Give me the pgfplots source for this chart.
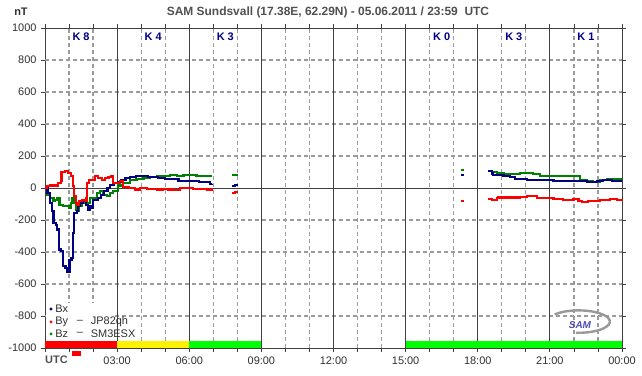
\documentclass[border=0pt]{standalone}
\usepackage{pgfplots}
\pgfplotsset{compat=1.18}
\usepackage{fontspec}
\setmainfont{Liberation Sans}
\definecolor{bxc}{HTML}{000080}
\definecolor{byc}{HTML}{FF0000}
\definecolor{bzc}{HTML}{008000}
\definecolor{framec}{HTML}{404040}
\definecolor{gridgray}{RGB}{155,155,155}
\definecolor{txtc}{HTML}{303030}
\definecolor{titc}{HTML}{505050}
\definecolor{kc}{HTML}{000080}
\definecolor{lime}{HTML}{00FF00}
\begin{document}
\begin{tikzpicture}
\useasboundingbox (-45bp,-28bp) rectangle (597bp,348bp);
\begin{axis}[
  at={(0,0)}, anchor=south west,
  scale only axis, width=577bp, height=320bp,
  xmin=0, xmax=24, ymin=-1000, ymax=1000,
  clip=false,
  unbounded coords=jump,
  axis line style={framec, line width=0.9bp},
  xtick={0,3,...,24},
  xticklabels={,03:00,06:00,09:00,12:00,15:00,18:00,21:00,00:00},
  minor xtick={1,2,4,5,7,8,10,11,13,14,16,17,19,20,22,23},
  ytick={-1000,-800,...,1000},
  yticklabels={-1000,-800,-600,-400,-200,0,200,400,600,800,1000},
  tick align=outside,
  major tick length=4bp, minor tick length=4bp,
  tick style={framec, line width=0.8bp},
  /pgf/number format/assume math mode=true,
  ticklabel style={font=\fontsize{11}{13}\selectfont, text=txtc},
  yticklabel style={xshift=-1bp},
  xticklabel style={yshift=-1bp},
]
% dashed grid
\pgfplotsinvokeforeach{1,2,4,5,7,8,10,11,13,14,16,17,19,20,22,23}{
  \draw[gridgray, line width=1.3bp, dash pattern=on 4bp off 3bp] (axis cs:#1,-1000) -- (axis cs:#1,1000);
}
\pgfplotsinvokeforeach{-800,-600,-400,-200,200,400,600,800}{
  \draw[gridgray, line width=1.3bp, dash pattern=on 4bp off 3bp] (axis cs:0,#1) -- (axis cs:24,#1);
}
% legend background
\fill[white] (axis cs:0.05,-719) rectangle (axis cs:2.91,-956);
\pgfplotsinvokeforeach{3,6,9,12,15,18,21}{
  \draw[framec, line width=0.9bp] (axis cs:#1,-1000) -- (axis cs:#1,1000);
}
\draw[framec, line width=0.9bp] (axis cs:0,0) -- (axis cs:24,0);

% K-index colour bar
\addplot[fill=byc, draw=none] coordinates {(0,-1000) (3,-1000) (3,-956) (0,-956)} -- cycle;
\addplot[fill=yellow, draw=none] coordinates {(3,-1000) (6,-1000) (6,-956) (3,-956)} -- cycle;
\addplot[fill=lime, draw=none] coordinates {(6,-1000) (9,-1000) (9,-956) (6,-956)} -- cycle;
\addplot[fill=lime, draw=none] coordinates {(15,-1000) (24,-1000) (24,-956) (15,-956)} -- cycle;
\addplot[fill=byc, draw=none] coordinates {(1.11,-1019) (1.5,-1019) (1.5,-1048) (1.11,-1048)} -- cycle;

% Bz
\addplot[const plot, bzc, line width=2.2bp] coordinates {
(0,0) (0.07,-42) (0.21,-62) (0.35,-83) (0.42,-73) (0.51,-62) (0.6,-104) (0.74,-115)
(1.01,-125) (1.07,-94) (1.14,-62) (1.21,-94) (1.28,-135) (1.35,-146) (1.41,-115)
(1.53,-94) (1.62,-83) (1.73,-94) (1.87,-62) (2.15,-31) (2.29,-21) (2.43,-42) (2.57,-52)
(2.7,-31) (2.84,-21) (3.05,15) (3.26,31) (3.54,48) (3.81,58) (4.1,62) (4.37,67) (4.65,73)
(5.2,83) (5.48,77) (5.76,79) (6.3,73) (6.96,73) (6.97,nan)
(7.79,79) (7.9,83) (8.04,83) (8.05,nan)
(17.3,112) (17.42,112) (17.43,nan)
(18.44,108) (18.58,98) (18.79,93) (19.07,88) (19.76,93) (20.31,88) (20.59,73)
(22.25,52) (22.53,42) (22.81,38) (23.09,48) (23.36,58) (23.99,58)};

% Bx
\addplot[const plot, bxc, line width=2.2bp] coordinates {
(0,0) (0.1,-31) (0.2,-94) (0.28,-146) (0.35,-219) (0.46,-229) (0.51,-260) (0.58,-385)
(0.66,-396) (0.74,-490) (0.85,-500) (0.9,-527) (1.02,-448) (1.1,-437) (1.16,-281)
(1.22,-156) (1.33,-146) (1.38,-115) (1.44,-94) (1.58,-83) (1.7,-104) (1.78,-135)
(1.85,-115) (1.92,-125) (1.99,-73) (2.2,-62) (2.33,-42) (2.45,-21) (2.6,0) (2.72,21)
(2.88,31) (3.02,35) (3.15,52) (3.35,62) (3.55,69) (3.78,73) (4.3,69) (4.7,62) (5.0,56)
(5.55,42) (6.4,37) (6.7,35) (6.85,25) (6.96,27) (6.97,nan)
(7.79,12) (7.9,19) (8.04,19) (8.05,nan)
(17.3,81) (17.42,81) (17.43,nan)
(18.44,104) (18.6,90) (18.65,83) (19.07,77) (19.34,69) (19.55,56) (19.76,58) (20.04,52)
(21.15,46) (21.84,42) (22.53,38) (22.95,42) (23.22,48) (23.57,42) (23.99,42)};

% By
\addplot[const plot, byc, line width=2.2bp] coordinates {
(0,0) (0.07,10) (0.2,15) (0.55,31) (0.65,42) (0.69,98) (0.83,104) (0.97,94) (1.07,73)
(1.15,10) (1.21,-52) (1.28,-94) (1.35,-104) (1.43,-83) (1.53,-73) (1.66,-83) (1.73,-62)
(1.76,31) (1.83,52) (1.94,48) (2.08,73) (2.22,62) (2.36,52) (2.5,62) (2.64,69) (2.77,73)
(2.84,31) (3.12,42) (3.26,6) (3.47,0) (3.74,-10) (3.95,0) (4.23,-4) (4.65,-10) (4.92,-4)
(5.13,-10) (5.34,-15) (5.62,0) (6.17,-6) (6.73,-15) (6.87,-10) (6.96,0) (6.97,nan)
(7.79,-31) (7.9,-23) (8.04,-23) (8.05,nan)
(17.3,-81) (17.42,-81) (17.43,nan)
(18.44,-71) (18.58,-75) (18.79,-65) (18.86,-60) (19.76,-54) (20.04,-52) (20.45,-62)
(21.15,-67) (21.56,-73) (21.98,-71) (22.19,-83) (22.32,-88) (22.6,-83) (22.67,-80)
(23.09,-77) (23.5,-71) (23.78,-73) (23.99,-79)};

% legend
\addplot[only marks, mark=*, mark size=1.3bp, bxc] coordinates {(0.25,-756)};
\addplot[only marks, mark=*, mark size=1.3bp, byc] coordinates {(0.25,-837)};
\addplot[only marks, mark=*, mark size=1.3bp, bzc] coordinates {(0.25,-912)};
\begin{scope}[every node/.style={font=\fontsize{11}{13}\selectfont, text=txtc, inner sep=0pt}]
\node[anchor=west] at (axis cs:0.42,-756) {Bx};
\node[anchor=west] at (axis cs:0.42,-837) {By};
\node at (axis cs:1.45,-837) {--};
\node[anchor=west] at (axis cs:1.9,-837) {JP82qh};
\node[anchor=west] at (axis cs:0.42,-912) {Bz};
\node at (axis cs:1.45,-912) {--};
\node[anchor=west] at (axis cs:1.9,-912) {SM3ESX};
\end{scope}

% K indices
\begin{scope}[every node/.style={font=\bfseries\fontsize{11}{13}\selectfont, text=kc, inner sep=0pt}]
\node at (axis cs:1.5,944) {K 8};
\node at (axis cs:4.5,944) {K 4};
\node at (axis cs:7.5,944) {K 3};
\node at (axis cs:16.5,944) {K 0};
\node at (axis cs:19.5,944) {K 3};
\node at (axis cs:22.5,944) {K 1};
\end{scope}

% titles
\node[font=\bfseries\fontsize{12}{14}\selectfont, text=titc, inner sep=0pt] at (axis cs:11.77,1100) {SAM Sundsvall (17.38E, 62.29N) - 05.06.2011 / 23:59\ \ UTC};
\node[font=\bfseries\fontsize{11}{13}\selectfont, text=txtc, inner sep=0pt] at (axis cs:-1.0,1100) {nT};
\node[font=\bfseries\fontsize{11}{13}\selectfont, text=titc, inner sep=0pt, anchor=west] at (axis cs:0,-1075) {UTC};

% SAM logo
\draw[gray!80, line width=2.4bp] (axis cs:21.2,-790) arc[start angle=140, end angle=-95, x radius=1.3, y radius=70];
\node[font=\bfseries\itshape\fontsize{10}{12}\selectfont, text=gray!60!blue, inner sep=0pt] at (axis cs:22.25,-856) {SAM};
\end{axis}
\end{tikzpicture}
\end{document}
